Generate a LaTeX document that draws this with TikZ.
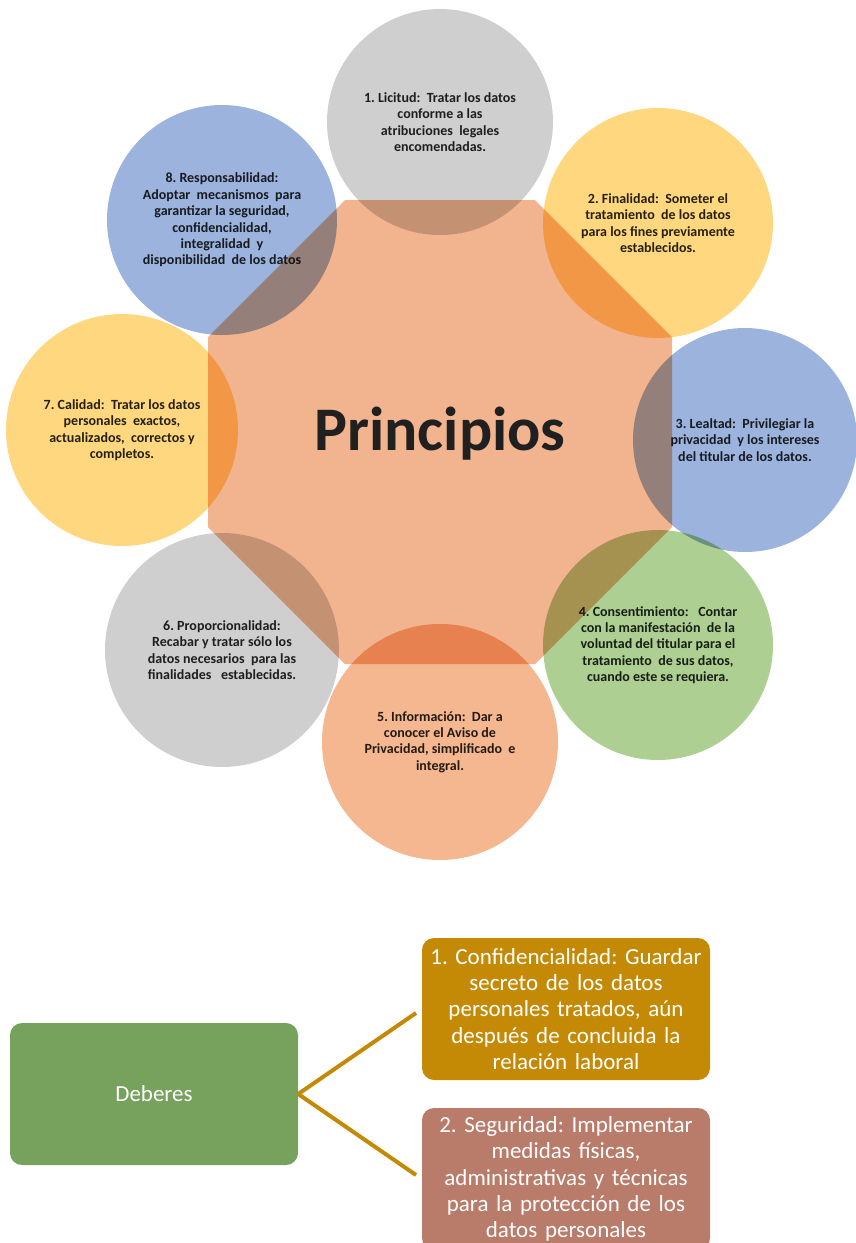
\documentclass[tikz,border=0pt]{standalone}
\usepackage{fontspec}
\setmainfont{Carlito}
\frenchspacing
\definecolor{cgray}{HTML}{CFCFCF}
\definecolor{cyellow}{HTML}{FFD77F}
\definecolor{cblue}{HTML}{9CB4DD}
\definecolor{cgreen}{HTML}{AECF92}
\definecolor{csalmon}{HTML}{F5B790}
\definecolor{ccenter}{HTML}{F2B48E}
\definecolor{ctext}{HTML}{262626}
\definecolor{dgreen}{HTML}{77A25D}
\definecolor{dgold}{HTML}{C48A06}
\definecolor{dbrown}{HTML}{B97B6A}
\begin{document}
\begin{tikzpicture}[x=1pt,y=-1pt,
  circ/.style={circle,inner sep=0pt,text=ctext,align=center,
    font=\fontsize{14}{16.4}\selectfont\bfseries},
  dbox/.style={rounded corners=12pt,minimum width=288pt,minimum height=142pt,
    text=white,align=center,inner sep=2pt,text width=284pt,
    font=\fontsize{23}{26.3}\selectfont},
  link/.style={draw=dgold,line width=4pt,shorten >=7pt}]
\useasboundingbox (0,0) rectangle (856,1243);
\begin{scope}
\clip (0,0) rectangle (856,1243);
% central octagon
\fill[ccenter] (440+95,200) -- (440+232,432-95) -- (440+232,432+95) -- (440+95,432+232)
  -- (440-95,432+232) -- (440-232,432+95) -- (440-232,432-95) -- (440-95,200) -- cycle;
\node[font=\fontsize{62}{66}\selectfont\bfseries,text=ctext!85!black] (title) at (440,434) {Principios};
\begin{scope}[blend mode=multiply]
\node[circ,fill=cgray,minimum size=226pt] (c1) at (440,122) {1. Licitud:\ \ Tratar los datos\\conforme\ a las\\atribuciones\ \ legales\\encomendadas.};
\node[circ,fill=cyellow,minimum size=230pt] (c2) at (658,223) {2. Finalidad:\ \ Someter el\\tratamiento\ \ de los datos\\para los fines previamente\\establecidos.};
\node[circ,fill=cblue,minimum size=224pt] (c3) at (745,440) {3. Lealtad:\ \ Privilegiar\ la\\privacidad\ \ y los intereses\\del titular\ de los datos.};
\node[circ,fill=cgreen,minimum size=230pt] (c4) at (658,645) {4. Consentimiento:\ \ \ Contar\\con la manifestación\ \ de la\\voluntad\ del titular\ para el\\tratamiento\ \ de sus datos,\\cuando\ este se requiera.};
\node[circ,fill=csalmon,minimum size=236pt] (c5) at (440,742) {5. Información:\ \ Dar a\\conocer\ el Aviso de\\Privacidad,\ simplificado\ \ e\\integral.};
\node[circ,fill=cgray,minimum size=234pt] (c6) at (222,650) {6. Proporcionalidad:\\Recabar y tratar sólo\ los\\datos\ necesarios\ \ para las\\finalidades\ \ \ establecidas.};
\node[circ,fill=cyellow,minimum size=232pt] (c7) at (122,430) {7. Calidad:\ \ Tratar los datos\\personales\ \ exactos,\\actualizados,\ \ correctos y\\completos.};
\node[circ,fill=cblue,minimum size=230pt] (c8) at (222,220) {8. Responsabilidad:\\Adoptar\ \ mecanismos\ \ para\\garantizar\ la seguridad,\\confidencialidad,\\integralidad\ \ y\\disponibilidad\ \ de los datos};
\end{scope}
% Deberes
\node[dbox,fill=dgreen,font=\fontsize{23}{26}\selectfont] (deb) at (154,1094) {Deberes};
\node[dbox,fill=dgold] (b1) at (566,1009) {1. Confidencialidad: Guardar\\secreto de los datos\\personales tratados, aún\\después de concluida la\\relación laboral};
\node[dbox,fill=dbrown] (b2) at (566,1179) {2. Seguridad: Implementar\\medidas físicas,\\administrativas y técnicas\\para la protección de los\\datos personales};
\draw[link] (deb.east) -- (b1.west);
\draw[link] (deb.east) -- (b2.west);
\end{scope}
\end{tikzpicture}
\end{document}
